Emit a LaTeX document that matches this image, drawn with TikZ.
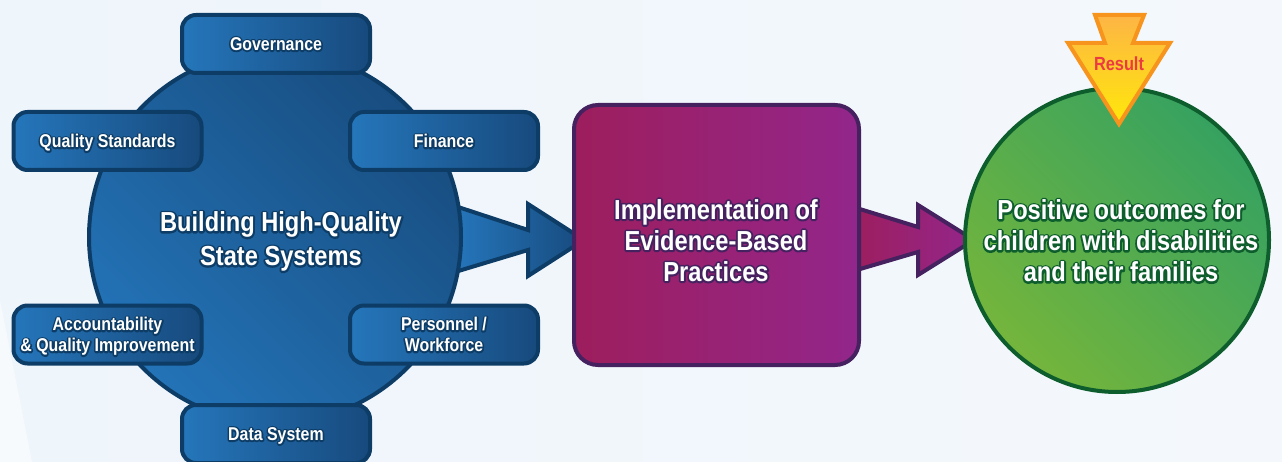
\documentclass[tikz,border=0pt]{standalone}
\usepackage{fontspec}
\setmainfont{Liberation Sans}[FakeStretch=0.86]
\definecolor{bgL}{HTML}{EEF5FB}
\definecolor{bgR}{HTML}{F4F8FC}
\definecolor{bgW}{HTML}{F6FAFD}
\definecolor{bdark}{HTML}{0D3D66}
\definecolor{blA}{HTML}{2576BB}
\definecolor{blB}{HTML}{174A7D}
\definecolor{hubA}{HTML}{2373B7}
\definecolor{hubB}{HTML}{184D80}
\definecolor{pdark}{HTML}{45215F}
\definecolor{puA}{HTML}{9D1E5D}
\definecolor{puB}{HTML}{93268B}
\definecolor{gdark}{HTML}{0E5E2D}
\definecolor{grA}{HTML}{74B53C}
\definecolor{grB}{HTML}{36A260}
\definecolor{oborder}{HTML}{F7941D}
\definecolor{yeA}{HTML}{FDB545}
\definecolor{yeB}{HTML}{FFE80A}
\definecolor{resred}{HTML}{EC3A44}
% outlined text: a stroked copy under a filled copy
\newcommand\otx[3]{\leavevmode\rlap{\special{pdf:literal direct 1 Tr #2 w 1 j 1 J #1 RG}#3\special{pdf:literal direct 0 Tr}}#3}
\newcommand\ctb[1]{\otx{0.051 0.239 0.4}{3.8}{#1}}
\newcommand\cts[1]{\otx{0.051 0.239 0.4}{3.2}{#1}}
\newcommand\ctp[1]{\otx{0.271 0.129 0.373}{3.8}{#1}}
\newcommand\ctg[1]{\otx{0.055 0.369 0.176}{3.8}{#1}}
\tikzset{
  sbox/.style={draw=bdark, line width=4pt, rounded corners=14pt, left color=blA, right color=blB,
    minimum width=188pt, minimum height=58pt, inner sep=0pt, text=white, align=center,
    text depth=0pt, font=\bfseries\fontsize{18.5}{21}\selectfont},
  bigtext/.style={text=white, align=center, inner sep=0pt, font=\bfseries\fontsize{27.5}{31}\selectfont},
  blockarrow/.style={line width=4pt, line join=miter}
}
\begin{document}
\begin{tikzpicture}[x=1pt,y=-1pt]
\useasboundingbox (0,0) rectangle (1282,462);
\fill[left color=bgL, right color=bgR] (0,0) rectangle (1282,462);
\fill[bgW] (0,300) -- (32,462) -- (0,462) -- cycle;
% block arrows
\path[blockarrow, draw=bdark, left color=blA, right color=blB]
  (455,206) -- (528,230) -- (528,204) -- (584,240) -- (528,276) -- (528,250) -- (455,272) -- cycle;
\path[blockarrow, draw=pdark, left color=puA, right color=puB]
  (850,206) -- (918,227) -- (918,205) -- (974,240) -- (918,275) -- (918,252) -- (850,272) -- cycle;
% hub circle
\node[circle, draw=bdark, line width=4pt, minimum size=372pt, inner sep=0pt,
  top color=hubB, bottom color=hubA, shading angle=-45] (hub) at (275,237) {};
\node[bigtext, font=\bfseries\fontsize{27.5}{34}\selectfont] (sys) at (281,241.5)
  {\ctb{Building High-Quality}\\\ctb{State Systems}};
% satellite boxes
\node[sbox] (gov) at (276,44) {\cts{Governance}};
\node[sbox] (qs) at (107.5,141) {\cts{Quality Standards}};
\node[sbox] (fin) at (444,141) {\cts{Finance}};
\node[sbox] (acc) at (107.5,334.5) {\cts{Accountability}\\\cts{\& Quality Improvement}};
\node[sbox] (per) at (444,334.5) {\cts{Personnel /}\\\cts{Workforce}};
\node[sbox] (data) at (276,434) {\cts{Data System}};
% practices box
\node[draw=pdark, line width=4pt, rounded corners=24pt, left color=puA, right color=puB,
  minimum width=285pt, minimum height=260pt, inner sep=0pt] (ebp) at (716.5,235) {};
\node[bigtext] (ebptext) at (716,240.5)
  {\ctp{Implementation of}\\\ctp{Evidence-Based}\\\ctp{Practices}};
% outcome circle
\node[circle, draw=gdark, line width=4pt, minimum size=304pt, inner sep=0pt,
  top color=grB, bottom color=grA, shading angle=-45] (out) at (1117,240) {};
\node[bigtext] (outtext) at (1121,241)
  {\ctg{Positive outcomes for}\\\ctg{children with disabilities}\\\ctg{and their families}};
% result arrow
\path[blockarrow, draw=oborder, top color=yeA, bottom color=yeB]
  (1095,15) -- (1144,15) -- (1133,43) -- (1170,43) -- (1119,124) -- (1068,43) -- (1105,43) -- cycle;
\node[text=resred, font=\bfseries\fontsize{19}{22}\selectfont, inner sep=0pt] (res) at (1119,64) {Result};
\end{tikzpicture}
\end{document}
